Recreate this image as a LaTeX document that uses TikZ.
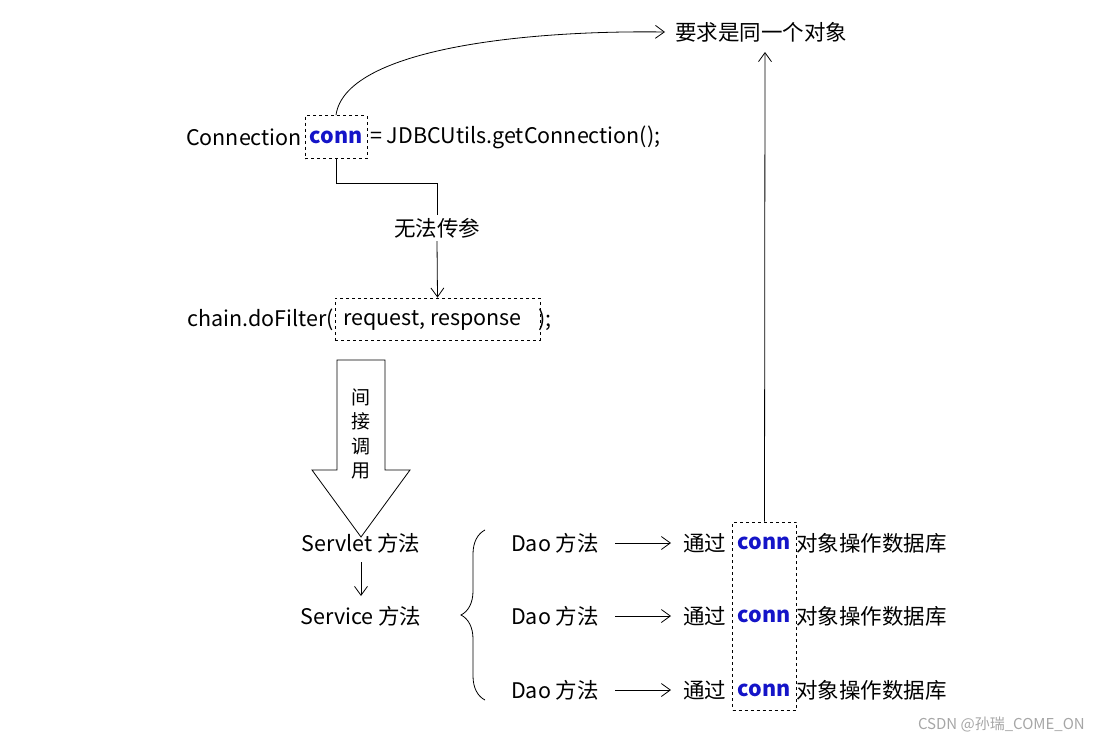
\documentclass[tikz,border=0pt]{standalone}
\usepackage{fontspec}
\setmainfont{Noto Sans CJK SC}
\usetikzlibrary{arrows.meta,decorations.pathreplacing}
\definecolor{connblue}{RGB}{20,20,200}
\begin{document}
\begin{tikzpicture}[x=1pt,y=-1pt,
  txt/.style={inner sep=0pt,font=\fontsize{21.5}{24}\selectfont},
  cn/.style={txt,text=connblue,font=\fontsize{21.5}{24}\selectfont\bfseries},
  dbox/.style={draw,dashed,thick},
  arr/.style={-{Straight Barb[length=9pt,width=13pt]},thick}]
\useasboundingbox (0,0) rectangle (1095,744);
% top target
\node[txt,anchor=west] (goal) at (675,32) {要求是同一个对象};
% connection line
\node[txt,anchor=east] (c1) at (302,137) {Connection};
\node[cn] (c2) at (336,137) {conn};
\node[txt,anchor=west] (c3) at (370,137) {= JDBCUtils.getConnection();};
\node[dbox,minimum width=62pt,minimum height=43pt] (cbox) at (336,137) {};
\draw[arr] (cbox.north) .. controls (345,50) and (520,30) .. ([xshift=-10pt]goal.west);
% no params
\node[txt,fill=white,inner sep=3pt] (np) at (437,228) {无法传参};
\draw[thick] (cbox.south) |- (437,183) -- (np.north);
% doFilter
\node[txt,anchor=east] (d1) at (334,320) {chain.doFilter(};
\node[txt,anchor=west] (d2) at (343,320) {request, response};
\node[txt,anchor=west] (d3) at (538,320) {);};
\node[dbox,minimum width=205pt,minimum height=42pt] (dbox) at (437.5,319) {};
\draw[arr] (np.south) -- (dbox.north);
% hollow arrow
\draw[thick] (337,360) -- (385,360) -- (385,470) -- (410,470) -- (361,537)
  -- (312,470) -- (337,470) -- cycle;
\node[txt,align=center,font=\fontsize{19}{24.5}\selectfont] (ind) at (361,434) {间\\接\\调\\用};
% servlet/service
\node[txt] (sv) at (361,543) {Servlet 方法};
\node[txt] (se) at (361,616) {Service 方法};
\coordinate (s0) at (361,562);
\coordinate (s1) at (361,596);
\draw[arr] (s0) -- (s1);
% brace
\draw[thick,decoration={brace,amplitude=24pt,aspect=0.5},decorate] (485,700) -- (485,530);
% dao rows
\foreach \y/\n in {543/a,616/b,690/c}{
  \node[txt] (dao\n) at (555,\y) {Dao 方法};
  \node[txt,anchor=west] (via\n) at (683,\y) {通过};
  \node[cn] (cc\n) at (764,\y) {conn};
  \node[txt,anchor=west] (op\n) at (796,\y) {对象操作数据库};
  \coordinate (f\n) at (615,\y);
  \draw[arr] (f\n) -- ([xshift=-12pt]via\n.west);
}
\node[dbox,minimum width=64pt,minimum height=188pt] (vbox) at (764.5,616) {};
\coordinate (top) at (765,52);
\draw[arr] (vbox.north) -- (top);
% watermark
\node[txt,text=gray!70,font=\fontsize{15}{17}\selectfont,anchor=east] (wm) at (1085,724) {CSDN @孙瑞\_COME\_ON};
\end{tikzpicture}
\end{document}
